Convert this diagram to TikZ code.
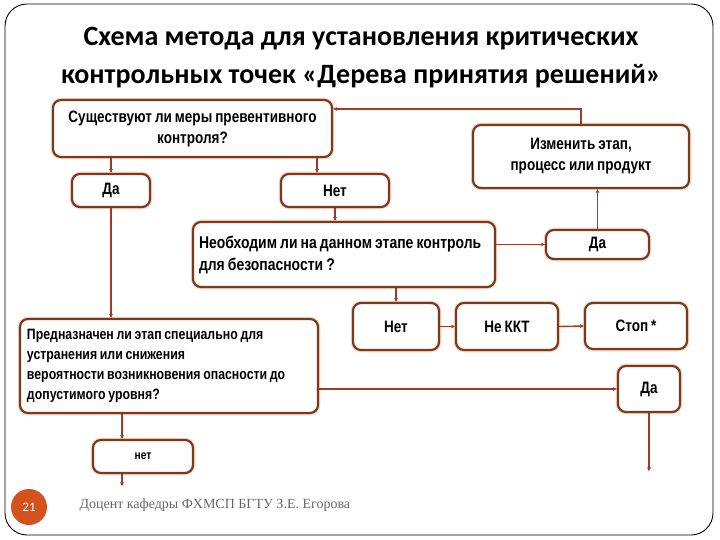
\documentclass[tikz,border=0pt]{standalone}
\usepackage{fontspec}
\setmainfont{Carlito}
\newfontfamily\boxfont[FakeStretch=0.82, WordSpace=0.8]{Liberation Sans}
\newfontfamily\footfont{Liberation Serif}
\usetikzlibrary{arrows.meta, positioning, calc}
\definecolor{boxBrown}{HTML}{7A3A1E}
\definecolor{lineRed}{HTML}{A33A28}
\definecolor{glowPeach}{HTML}{F6D9C8}
\definecolor{pageOrange}{HTML}{D4521E}
\definecolor{footGray}{HTML}{666666}

\begin{document}
\begin{tikzpicture}[x=1pt, y=-1pt,
  box/.style={draw=boxBrown, line width=2.2pt, rounded corners=8pt, fill=white,
              preaction={draw=glowPeach, line width=4.5pt},
              font=\boxfont\bfseries\fontsize{16.5}{21}\selectfont,
              align=center, inner sep=0pt},
  qbox/.style={box, align=flush left, text width=#1},
  conn/.style={draw=lineRed, line width=1.4pt, -{Stealth[length=4pt, width=4pt]}}]
  \useasboundingbox (0,0) rectangle (720,540);
  \draw[line width=0.9pt, rounded corners=22pt] (5,4) rectangle (713,535);

  % title
  \node[font=\bfseries\fontsize{28}{38}\selectfont, align=center] (title) at (361,58)
    {Схема метода для установления критических\\контрольных точек «Дерева принятия решений»};

  % decision boxes
  \node[box, minimum width=279pt, minimum height=57pt] (q1) at (192.5,128.5)
    {Существуют ли меры превентивного\\контроля?};
  \node[box, minimum width=78pt, minimum height=33pt] (da1) at (111,190.5) {Да};
  \node[box, minimum width=108pt, minimum height=33pt] (net1) at (335,190.5) {Нет};
  \node[box, minimum width=216pt, minimum height=63pt] (izm) at (581,156.5)
    {Изменить этап,\\процесс или продукт};
  \node[qbox=290pt, minimum width=302pt, minimum height=65pt,
        font=\boxfont\bfseries\fontsize{17}{22}\selectfont] (q2) at (344,254.5)
    {Необходим ли на данном этапе контроль\\для безопасности ?};
  \node[box, minimum width=103pt, minimum height=29pt] (da2) at (597.5,244.5) {Да};
  \node[box, minimum width=86pt, minimum height=47pt] (net2) at (396,326.5) {Нет};
  \node[box, minimum width=102pt, minimum height=47pt] (nekkt) at (507,326.5) {Не ККТ};
  \node[box, minimum width=102pt, minimum height=46pt] (stop) at (636,326) {Стоп *};
  \node[qbox=284pt, minimum width=298pt, minimum height=94pt,
        font=\boxfont\bfseries\fontsize{15}{20}\selectfont] (q3) at (169,366)
    {Предназначен ли этап специально для\\устранения или снижения\\вероятности возникновения опасности до\\допустимого уровня?};
  \node[box, minimum width=62pt, minimum height=46pt] (da3) at (649,389) {Да};
  \node[box, minimum width=100pt, minimum height=33pt,
        font=\boxfont\bfseries\fontsize{12.5}{14}\selectfont] (net3) at (143,456.5) {нет};

  % connectors
  \coordinate (netIn) at ([xshift=-18pt]net1.north);
  \coordinate (net3In) at ([xshift=-21pt]net3.north);
  \coordinate (net3Out) at ([xshift=-21pt]net3.south);
  \coordinate (q1Out) at ([yshift=-10pt]q1.north east);
  \draw[conn] (q1.south -| da1.north) -- (da1.north);
  \draw[conn] (q1.south -| netIn) -- (netIn);
  \draw[conn] (izm.north) |- (q1Out);
  \draw[conn] (net1.south) -- (q2.north -| net1.south);
  \draw[conn] (q2.east |- da2.west) -- (da2.west);
  \draw[conn] (da2.north) -- (izm.south -| da2.north);
  \draw[conn] (q2.south -| net2.north) -- (net2.north);
  \draw[conn] (net2.east) -- (nekkt.west);
  \draw[conn] (nekkt.east) -- (stop.west);
  \draw[conn] (da1.south) -- (q3.north -| da1.south);
  \draw[conn] (q3.east |- da3.west) -- (da3.west);
  \coordinate (daEnd) at ($(da3.south)+(0,58)$);
  \draw[conn] (da3.south) -- (daEnd);
  \draw[conn] (q3.south -| net3In) -- (net3In);
  \coordinate (netEnd) at ($(net3Out)+(0,12)$);
  \draw[conn] (net3Out) -- (netEnd);

  % footer
  \node[circle, fill=pageOrange, minimum size=36pt, inner sep=0pt, text=white,
        font=\fontsize{13}{15}\selectfont] (page) at (29,507) {21};
  \node[anchor=west, text=footGray, font=\footfont\fontsize{14}{16}\selectfont]
    (foot) at (76,505) {Доцент кафедры ФХМСП БГТУ З.Е. Егорова};
\end{tikzpicture}
\end{document}
